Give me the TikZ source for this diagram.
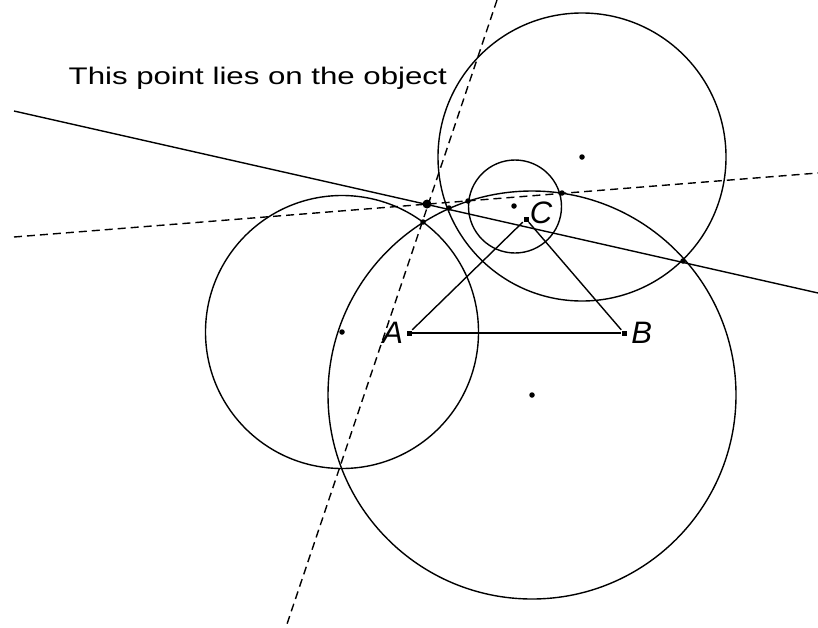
\documentclass[tikz,border=0pt]{standalone}
\usepackage{fontspec}
\setsansfont{Liberation Sans}
\usepackage{tikz}
\usetikzlibrary{positioning}

\tikzset{
  pt/.style={circle, fill=black, inner sep=0pt, minimum size=5.5pt},
  bigpt/.style={circle, fill=black, inner sep=0pt, minimum size=9pt},
  vertex/.style={rectangle, fill=black, inner sep=0pt, minimum size=5pt},
  lbl/.style={inner sep=0pt, font=\sffamily\itshape\fontsize{31}{34}\selectfont},
  dashline/.style={dash pattern=on 8pt off 5pt},
}

\begin{document}
\begin{tikzpicture}[x=1pt, y=-1pt, line width=1.4pt, font=\sffamily]
  \useasboundingbox (0,0) rectangle (818,627);

  % Lines
  \coordinate (s1) at (14,111);
  \coordinate (s2) at (818,293);
  \coordinate (h1) at (14,237);
  \coordinate (h2) at (818,173);
  \coordinate (v1) at (497,0);
  \coordinate (v2) at (286,627);
  \draw (s1) -- (s2);
  \draw[dashline] (h1) -- (h2);
  \draw[dashline] (v1) -- (v2);

  % Circles
  \draw (342,332) circle (136.5pt);
  \draw (532,395) circle (204pt);
  \draw (582,157) circle (144pt);
  \draw (515,206.5) circle (46.5pt);

  % Triangle
  \node[vertex] (A) at (409,333) {};
  \node[vertex] (B) at (624,333) {};
  \node[vertex] (C) at (526,219) {};
  \draw (A) -- (B);
  \draw (A) -- (C);
  \draw (B) -- (C);
  \node[lbl, left=2pt of A] (labA) {A};
  \node[lbl, right=3.5pt of B] (labB) {B};
  \node[lbl] (labC) at (541,213) {C};

  % Centres
  \node[pt] (o1) at (342,332) {};
  \node[pt] (o2) at (532,395) {};
  \node[pt] (o3) at (582,157) {};
  \node[pt] (o4) at (514,206) {};

  % Intersections
  \node[pt] (p1) at (423,222) {};
  \node[pt] (p2) at (449,208) {};
  \node[pt] (p3) at (468,201) {};
  \node[pt] (p4) at (562,193) {};
  \node[pt] (p5) at (683,261) {};
  \node[bigpt] (P) at (427,204) {};

  % Caption
  \node[anchor=base west, inner sep=0pt, font=\sffamily\fontsize{24}{28}\selectfont] (note) at (68,84) {\scalebox{1.3}[1]{This point lies on the object}};
\end{tikzpicture}
\end{document}
